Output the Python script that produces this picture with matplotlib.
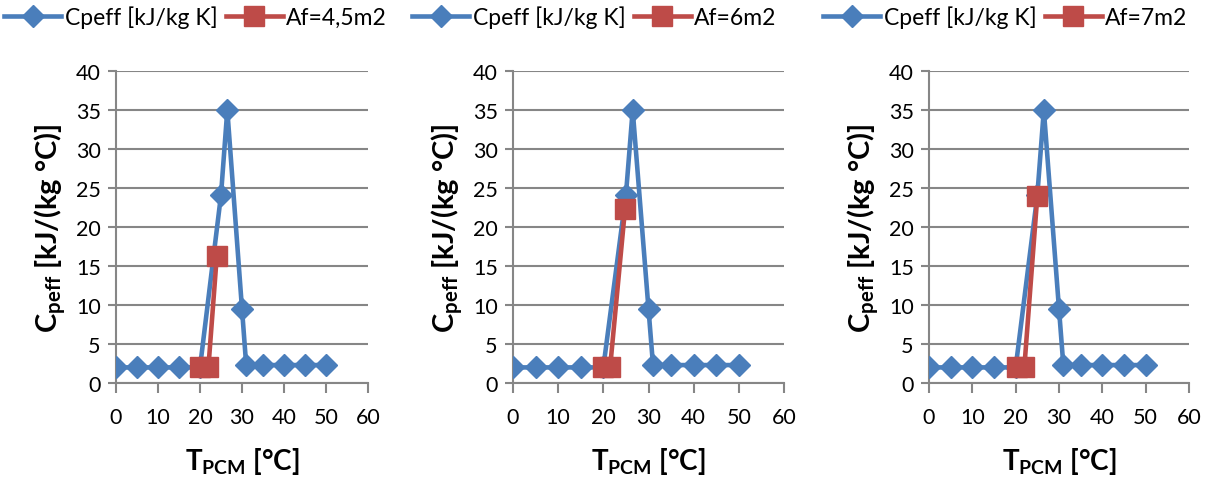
import matplotlib.pyplot as plt

plt.rcParams['font.family'] = ['Lato', 'DejaVu Sans']
plt.rcParams['mathtext.fontset'] = 'custom'
plt.rcParams['mathtext.rm'] = 'Lato'
plt.rcParams['mathtext.bf'] = 'Lato:bold'

# data
t_cpeff = [0, 5, 10, 15, 20, 25, 26.5, 30, 31, 35, 40, 45, 50]
cpeff = [2, 2, 2, 2, 2, 24.1, 35, 9.5, 2.3, 2.3, 2.3, 2.3, 2.3]

af_labels = ["Af=4,5m2", "Af=6m2", "Af=7m2"]
af_t = [[20, 22, 24], [20, 21.5, 24.8], [20.4, 22, 25]]
af_c = [[2, 2, 16.3], [2, 2, 22.3], [2, 2, 24.0]]

blue = "#4A7EBB"
red = "#BE4B48"
grey = "#868686"

fig = plt.figure(figsize=(12.11, 4.85), dpi=100)
W, H = 1211, 485
lefts = [116, 513, 929]
rights = [368, 784, 1189]
leg_x = [4, 412, 823]
top, bottom = 72, 384

for i in range(3):
    ax = fig.add_axes([lefts[i] / W, 1 - bottom / H, (rights[i] - lefts[i]) / W, (bottom - top) / H])
    l1, = ax.plot(t_cpeff, cpeff, color=blue, lw=3.3, marker='D', ms=11,
                  label="Cpeff [kJ/kg K]", zorder=3)
    l2, = ax.plot(af_t[i], af_c[i], color=red, lw=3.3, marker='s', ms=14,
                  label=af_labels[i], zorder=4)
    ax.set_xlim(0, 60)
    ax.set_ylim(0, 40)
    ax.set_xticks(range(0, 61, 10))
    ax.set_yticks(range(0, 41, 5))
    ax.grid(axis='y', color=grey, lw=1.5)
    ax.set_axisbelow(True)
    for s in ['top', 'right']:
        ax.spines[s].set_visible(False)
    for s in ['left', 'bottom']:
        ax.spines[s].set_color(grey)
        ax.spines[s].set_linewidth(1.5)
    ax.tick_params(colors=grey, labelcolor='black', labelsize=15.5, width=1.5,
                   length=6, direction='out')
    ax.tick_params(axis='x', length=7, pad=10)
    ax.tick_params(axis='y', pad=5)
    ax.set_xlabel(r"T$_{\mathbf{PCM}}$ [°C]", fontsize=20, fontweight='bold', labelpad=13)
    ax.set_ylabel(r"C$_{\mathbf{peff}}$ [kJ/(kg °C)]", fontsize=21, fontweight='bold', labelpad=5)
    ax.legend(handles=[l1, l2], loc='center left', ncol=2, frameon=False,
              bbox_to_anchor=(leg_x[i] / W, 1 - 18 / H), bbox_transform=fig.transFigure,
              fontsize=16.5, handlelength=2.5, handletextpad=0.15, columnspacing=0.35,
              borderaxespad=0, borderpad=0)

fig.savefig("out.png", dpi=100)
